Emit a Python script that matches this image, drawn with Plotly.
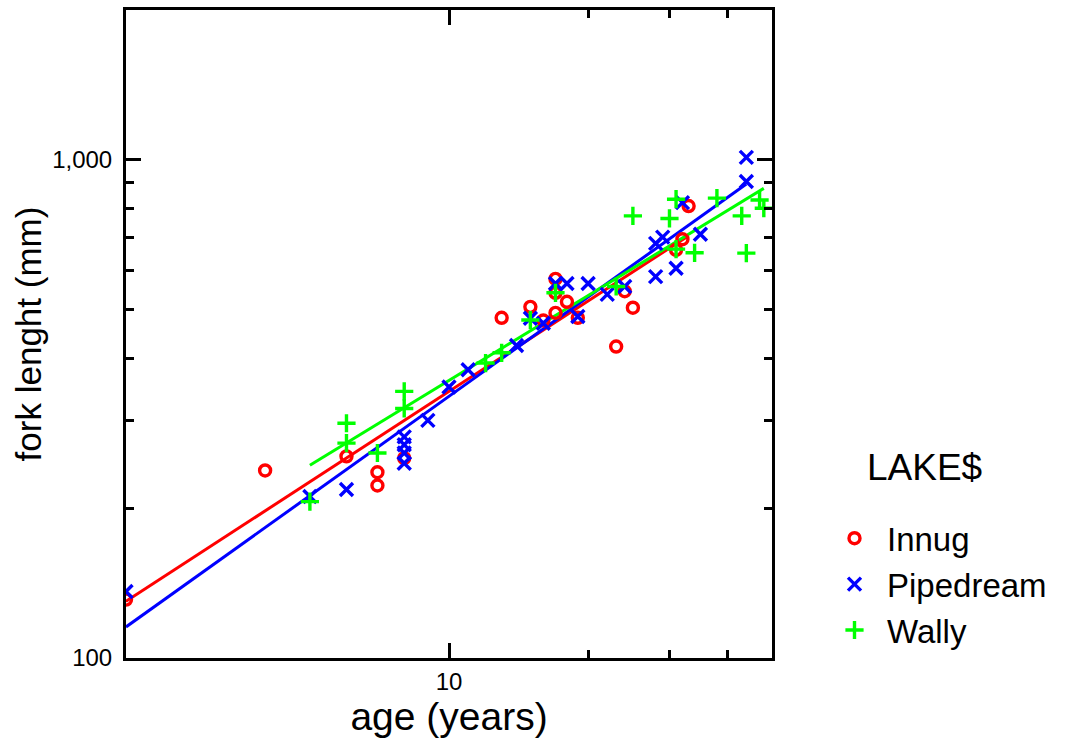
import numpy as np
import plotly.graph_objects as go

# ---- data ----
innug_age = [2, 4, 6, 7, 7, 8, 13, 15, 16, 17, 17, 17, 18, 19, 23, 24, 25, 31, 32, 33]
innug_len = [131, 238, 254, 236, 222, 252, 482, 507, 476, 577, 541, 493, 519, 482, 422, 545, 505, 660, 693, 808]

pipe_age = [2, 5, 6, 8, 8, 8, 8, 9, 10, 11, 14, 15, 16, 17, 18, 19, 20, 22, 24, 28, 28, 29, 31, 32, 35, 44, 44]
pipe_len = [136, 211, 218, 278, 268, 258, 246, 300, 350, 379, 424, 481, 470, 565, 565, 485, 565, 537, 557, 583, 680, 700, 606, 821, 709, 905, 1012]

wally_age = [5, 6, 6, 7, 8, 8, 12, 13, 15, 17, 23, 25, 30, 31, 31, 34, 38, 43, 44, 47, 48]
wally_len = [206, 296, 270, 258, 343, 317, 391, 410, 477, 541, 557, 772, 763, 834, 662, 651, 838, 772, 650, 831, 800]

lakes = ["Innug", "Pipedream", "Wally"]
colors = ["#FF0000", "#0000FF", "#00FF00"]
symbols = ["circle-open", "x-thin-open", "cross-thin-open"]
marker_sizes = [11, 13, 13]

x_tickvals = [10]
x_ticktext = ["10"]
x_minor = [20, 30, 40]
y_tickvals = [100, 1000]
y_ticktext = ["100", "1,000"]
y_minor = [200, 300, 400, 500, 600, 700, 800, 900]

legend_title = "LAKE$"

FONT = "Liberation Sans, Arial, sans-serif"

fig = go.Figure()
series = [(innug_age, innug_len), (pipe_age, pipe_len), (wally_age, wally_len)]

for (ages, lens), name, col, sym, ms in zip(series, lakes, colors, symbols, marker_sizes):
    lx = np.log10(ages)
    ly = np.log10(lens)
    b, a = np.polyfit(lx, ly, 1)
    xs = np.array([min(ages), max(ages)], dtype=float)
    ys = 10 ** (a + b * np.log10(xs))
    fig.add_trace(go.Scatter(x=xs, y=ys, mode="lines",
                             line=dict(color=col, width=3),
                             showlegend=False, hoverinfo="skip"))

for (ages, lens), name, col, sym, ms in zip(series, lakes, colors, symbols, marker_sizes):
    fig.add_trace(go.Scatter(x=ages, y=lens, mode="markers", name=name,
                             marker=dict(symbol=sym, size=ms, color=col,
                                         line=dict(color=col, width=3.4))))

axis_common = dict(
    type="log", showline=True, linewidth=3, linecolor="black", mirror="allticks",
    ticks="inside", ticklen=15, tickwidth=3, tickcolor="black",
    showgrid=False, zeroline=False,
    tickfont=dict(family=FONT, size=24, color="black"),
)

fig.update_xaxes(
    **axis_common,
    range=[np.log10(2), np.log10(50)],
    tickmode="array", tickvals=x_tickvals, ticktext=x_ticktext,
    minor=dict(tickmode="array", tickvals=x_minor, ticks="inside", ticklen=8,
               tickwidth=3, tickcolor="black"),
    title=dict(text="age (years)", font=dict(family=FONT, size=39, color="black"), standoff=4),
)
fig.update_yaxes(
    **axis_common,
    range=[2, np.log10(2000)],
    tickmode="array", tickvals=y_tickvals, ticktext=y_ticktext,
    minor=dict(tickmode="array", tickvals=y_minor, ticks="inside", ticklen=8,
               tickwidth=3, tickcolor="black"),
    title=dict(text="fork lenght (mm)", font=dict(family=FONT, size=35, color="black"), standoff=0),
    ticklabelstandoff=6,
)

fig.update_layout(
    width=1076, height=750,
    margin=dict(l=126, r=304, t=10, b=92, autoexpand=False),
    plot_bgcolor="white", paper_bgcolor="white",
    font=dict(family=FONT, color="black"),
    legend=dict(
        x=1.0774, y=0.228, xanchor="left", yanchor="top",
        font=dict(family=FONT, size=33, color="black"),
        bgcolor="rgba(0,0,0,0)", itemwidth=55,
    ),
    annotations=[dict(
        text=legend_title, xref="paper", yref="paper",
        x=(865 - 126) / 646, y=(658 - 467) / 648, xanchor="left", yanchor="middle",
        showarrow=False, font=dict(family=FONT, size=37, color="black"),
    )],
)

fig.write_html("out.html")
